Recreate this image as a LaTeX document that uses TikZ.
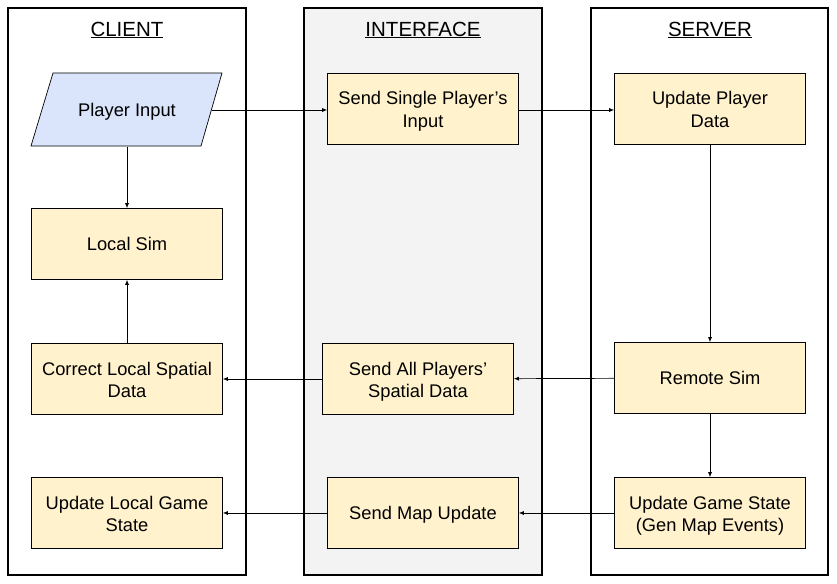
\documentclass[tikz,border=0pt]{standalone}
\usepackage{fontspec}
\setmainfont{Liberation Sans}
\usetikzlibrary{arrows.meta}
\definecolor{boxfill}{HTML}{FFF2CC}
\definecolor{inpfill}{HTML}{DAE5FB}
\definecolor{midfill}{HTML}{F3F3F3}
\newcommand\topst{\rule{0pt}{18.5pt}}
\newcommand\botst{\rule[-4pt]{0pt}{0pt}}
\tikzset{
  lane/.style={draw=black, line width=1.6pt},
  txt/.style={align=center, font=\fontsize{18.3pt}{22.5pt}\selectfont, inner sep=0pt,
    execute at begin node={\rule{0pt}{0.905em}},
    execute at end node={\rule[-0.212em]{0pt}{0pt}}},
  proc/.style={txt, draw=black, line width=0.7pt, fill=boxfill, minimum width=191pt, minimum height=71pt},
  io/.style={txt, minimum width=170pt, minimum height=73pt},
  title/.style={font=\fontsize{20.5pt}{24pt}\selectfont},
  flow/.style={draw=black, line width=0.7pt, -{Latex[length=5pt,width=4pt]}},
}
\begin{document}
\begin{tikzpicture}[x=1pt,y=-1pt]
\useasboundingbox (0,0) rectangle (837,583);
\fill[white] (0,0) rectangle (837,583);
% lanes
\draw[lane] (8,8) rectangle (246,575);
\draw[lane, fill=midfill] (304,8) rectangle (542,575);
\draw[lane] (591,8) rectangle (828,575);
\node[title] (tc) at (127,30) {\underline{CLIENT}};
\node[title] (ti) at (423,30) {\underline{INTERFACE}};
\node[title] (ts) at (710,30) {\underline{SERVER}};
% client
\draw[draw=black, line width=0.7pt, fill=inpfill] (53,73) -- (222,73) -- (201,146) -- (31,146) -- cycle;
\node[io] (pi) at (127,110) {Player Input};
\node[proc] (ls) at (127,244) {Local Sim};
\node[proc] (cl) at (127,379) {\topst Correct Local Spatial\\Data\botst};
\node[proc] (ul) at (127,513) {\topst Update Local Game\\State\botst};
% interface
\node[proc] (ss) at (423,109) {\topst Send Single Player’s\\Input\botst};
\node[proc] (sa) at (418,379) {\topst Send All Players’\\Spatial Data\botst};
\node[proc] (sm) at (423,513) {Send Map Update};
% server
\node[proc] (up) at (710,109) {\topst Update Player\\Data\botst};
\node[proc] (rs) at (710,378) {Remote Sim};
\node[proc] (ug) at (710,513) {\topst Update Game State\\(Gen Map Events)\botst};
% connectors
\draw[flow] (pi.east |- 0,110) -- (ss.west |- 0,110);
\draw[flow] (ss.east |- 0,110) -- (up.west |- 0,110);
\draw[flow] (up) -- (rs);
\draw[flow] (rs) -- (sa);
\draw[flow] (sa) -- (cl);
\draw[flow] (cl) -- (ls);
\draw[flow] (pi) -- (ls);
\draw[flow] (rs) -- (ug);
\draw[flow] (ug) -- (sm);
\draw[flow] (sm) -- (ul);
\end{tikzpicture}
\end{document}
